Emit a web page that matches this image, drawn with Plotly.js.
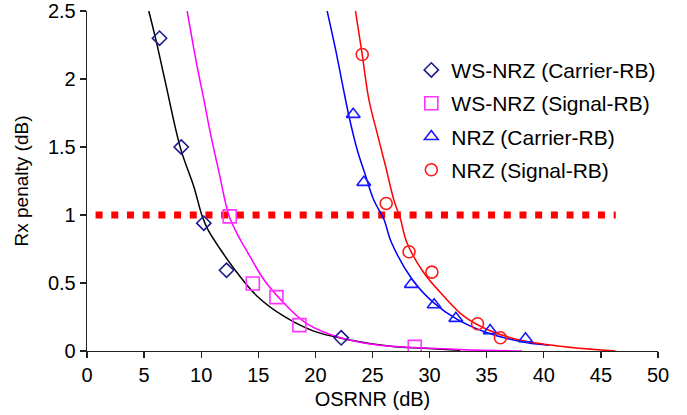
<!DOCTYPE html>
<html>
<head>
<meta charset="utf-8">
<script src="https://cdn.plot.ly/plotly-3.0.1.min.js"></script>
<style>html,body{margin:0;padding:0;background:#fff;}#chart{width:687px;height:415px;}</style>
</head>
<body>
<div id="chart"></div>
<script>
// ---- Measured data points ----
const wsCarrierX = [6.35, 8.25, 10.23, 12.22, 22.26];
const wsCarrierY = [2.30, 1.50, 0.94, 0.594, 0.097];
const wsSignalX = [12.5, 14.52, 16.59, 18.6, 28.7];
const wsSignalY = [0.99, 0.496, 0.396, 0.19, 0.03];
const nrzCarrierX = [23.31, 24.24, 28.4, 30.4, 32.3, 35.3, 38.4];
const nrzCarrierY = [1.74, 1.24, 0.49, 0.34, 0.24, 0.15, 0.09];
const nrzSignalX = [24.1, 26.2, 28.2, 30.2, 34.2, 36.2];
const nrzSignalY = [2.18, 1.085, 0.73, 0.58, 0.2, 0.097];

// ---- Fitted curves ----
const wsCarrierFitX = [5.41, 6.0, 6.88, 8.19, 9.35, 10.09, 10.6, 11.69, 13.15, 14.9, 17.23, 19.86, 22.78, 26.58, 29.5, 32.7];
const wsCarrierFitY = [2.5, 2.30, 1.97, 1.49, 1.21, 0.99, 0.89, 0.746, 0.575, 0.403, 0.256, 0.146, 0.085, 0.035, 0.02, 0.005];
const wsSignalFitX = [8.77, 9.65, 10.23, 10.81, 11.57, 12.45, 13.35, 14.1, 15.48, 17.23, 19.28, 22.2, 25.1, 28.7, 33.0, 38.1];
const wsSignalFitY = [2.5, 2.09, 1.85, 1.60, 1.31, 0.99, 0.83, 0.72, 0.526, 0.354, 0.2, 0.097, 0.048, 0.025, 0.01, 0.0];
const nrzCarrierFitX = [21.03, 21.76, 22.35, 22.93, 23.66, 24.39, 25.11, 25.99, 26.65, 28.48, 30.37, 32.42, 35.04, 38.55, 40.44];
const nrzCarrierFitY = [2.5, 2.22, 1.97, 1.73, 1.48, 1.29, 1.11, 0.97, 0.80, 0.526, 0.354, 0.232, 0.134, 0.06, 0.043];
const nrzSignalFitX = [23.51, 24.1, 24.68, 25.41, 26.14, 26.87, 27.45, 28.0, 29.49, 31.24, 33.0, 35.04, 37.67, 41.46, 46.28];
const nrzSignalFitY = [2.5, 2.18, 1.85, 1.60, 1.36, 1.11, 0.97, 0.80, 0.575, 0.403, 0.256, 0.158, 0.085, 0.035, 0.0];

// ---- Threshold line ----
const thresholdX = [0.75, 46.3];
const thresholdY = [1, 1];

const names = ['WS-NRZ (Carrier-RB)', 'WS-NRZ (Signal-RB)', 'NRZ (Carrier-RB)', 'NRZ (Signal-RB)'];

const fontFam = '"Liberation Sans", Arial, Helvetica, sans-serif';

const traces = [
  {x: thresholdX, y: thresholdY, mode: 'lines', showlegend: false, hoverinfo: 'skip',
   line: {color: '#ff0000', width: 7, dash: '7px,8.7px'}},
  {x: wsCarrierFitX, y: wsCarrierFitY, mode: 'lines', showlegend: false,
   line: {color: '#000000', width: 1.5, shape: 'spline', smoothing: 1}},
  {x: wsSignalFitX, y: wsSignalFitY, mode: 'lines', showlegend: false,
   line: {color: '#ff00ff', width: 1.5, shape: 'spline', smoothing: 1}},
  {x: nrzCarrierFitX, y: nrzCarrierFitY, mode: 'lines', showlegend: false,
   line: {color: '#0000ff', width: 1.5, shape: 'spline', smoothing: 1}},
  {x: nrzSignalFitX, y: nrzSignalFitY, mode: 'lines', showlegend: false,
   line: {color: '#ff0000', width: 1.5, shape: 'spline', smoothing: 1}},
  {x: wsCarrierX, y: wsCarrierY, mode: 'markers', name: names[0], legendgroup: 'a',
   marker: {symbol: 'diamond-open', size: 11, color: '#1c1c8c', line: {width: 1.6, color: '#1c1c8c'}}},
  {x: wsSignalX, y: wsSignalY, mode: 'markers', name: names[1], legendgroup: 'b',
   marker: {symbol: 'square-open', size: 13, color: '#ff33ff', line: {width: 1.6, color: '#ff33ff'}}},
  {x: nrzCarrierX, y: nrzCarrierY, mode: 'markers', name: names[2], legendgroup: 'c',
   marker: {symbol: 'triangle-up-open', size: 12, color: '#1a1aff', line: {width: 1.6, color: '#1a1aff'}}},
  {x: nrzSignalX, y: nrzSignalY, mode: 'markers', name: names[3], legendgroup: 'd',
   marker: {symbol: 'circle-open', size: 12, color: '#ff1a1a', line: {width: 1.6, color: '#ff1a1a'}}}
];

const layout = {
  width: 687, height: 415,
  margin: {l: 87, r: 29, t: 11, b: 64},
  paper_bgcolor: '#ffffff', plot_bgcolor: '#ffffff',
  font: {family: fontFam, color: '#000000', size: 20},
  showlegend: true,
  legend: {x: 0.568, y: 0.886, xanchor: 'left', yanchor: 'top', bgcolor: 'rgba(0,0,0,0)',
           font: {size: 21, family: fontFam}, tracegroupgap: 3, traceorder: 'grouped'},
  xaxis: {range: [0, 50], dtick: 5, tick0: 0, showgrid: false, zeroline: false,
          showline: true, linecolor: '#222', linewidth: 1.3, ticks: 'outside', ticklen: 6,
          tickcolor: '#222', tickwidth: 1.3, tickfont: {size: 20},
          title: {text: 'OSRNR (dB)', font: {size: 20}, standoff: 6}},
  yaxis: {range: [0, 2.5], dtick: 0.5, tick0: 0, showgrid: false, zeroline: false,
          showline: true, linecolor: '#222', linewidth: 1.3, ticks: 'outside', ticklen: 6,
          tickcolor: '#222', tickwidth: 1.3, tickfont: {size: 20},
          title: {text: 'Rx penalty (dB)', font: {size: 19}, standoff: 14}}
};

Plotly.newPlot('chart', traces, layout, {staticPlot: true, displayModeBar: false});
</script>
</body>
</html>
